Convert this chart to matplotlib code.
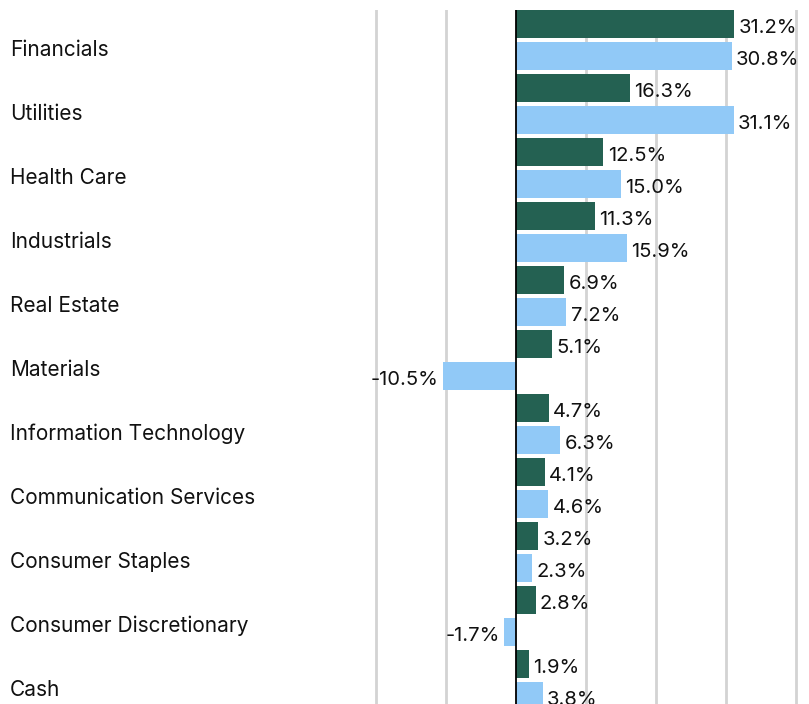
import matplotlib.pyplot as plt
from matplotlib.transforms import blended_transform_factory

# Datos del gráfico
sectores = ["Financials", "Utilities", "Health Care", "Industrials", "Real Estate",
            "Materials", "Information Technology", "Communication Services",
            "Consumer Staples", "Consumer Discretionary", "Cash"]
serie_verde = [31.2, 16.3, 12.5, 11.3, 6.9, 5.1, 4.7, 4.1, 3.2, 2.8, 1.9]
serie_azul = [30.8, 31.1, 15.0, 15.9, 7.2, -10.5, 6.3, 4.6, 2.3, -1.7, 3.8]
marcas_x = [-20, -10, 0, 10, 20, 30, 40]

verde = "#246152"
azul = "#91C9F7"

plt.rcParams['font.family'] = ['Inter', 'DejaVu Sans']

fig = plt.figure(figsize=(8.09, 7.04), dpi=100)
ax = fig.add_axes([370 / 809, 0, 439 / 809, 694 / 704])

# x en coordenadas de la figura, y en datos
trans_etiquetas = blended_transform_factory(fig.transFigure, ax.transData)

alto = 0.875
for i, (v, a) in enumerate(zip(serie_verde, serie_azul)):
    y_v = 2 * i
    y_a = 2 * i + 1
    ax.barh(y_v, v, height=alto, color=verde, zorder=3)
    ax.barh(y_a, a, height=alto, color=azul, zorder=3)
    for y, val in ((y_v, v), (y_a, a)):
        if val >= 0:
            ax.text(val + 0.6, y + 0.12, f"{val:.1f}%", ha='left', va='center',
                    fontsize=14.5, color='#111111', zorder=4)
        else:
            ax.text(val - 0.6, y + 0.12, f"{val:.1f}%", ha='right', va='center',
                    fontsize=14.5, color='#111111', zorder=4)
    # Etiqueta de la categoría a la izquierda
    ax.text(10 / 809, 2 * i + 0.8, sectores[i], ha='left', va='center',
            fontsize=15, color='#111111', transform=trans_etiquetas, clip_on=False)

for m in marcas_x:
    if m == 0:
        ax.axvline(0, color='black', lw=1.3, zorder=4)
    else:
        ax.axvline(m, color='#d3d3d3', lw=2, zorder=1)

ax.set_xlim(-20.86, 41.86)
ax.set_ylim(-0.4375 + 694 / 32, -0.4375)
ax.axis('off')

fig.savefig("out.png", dpi=100)
